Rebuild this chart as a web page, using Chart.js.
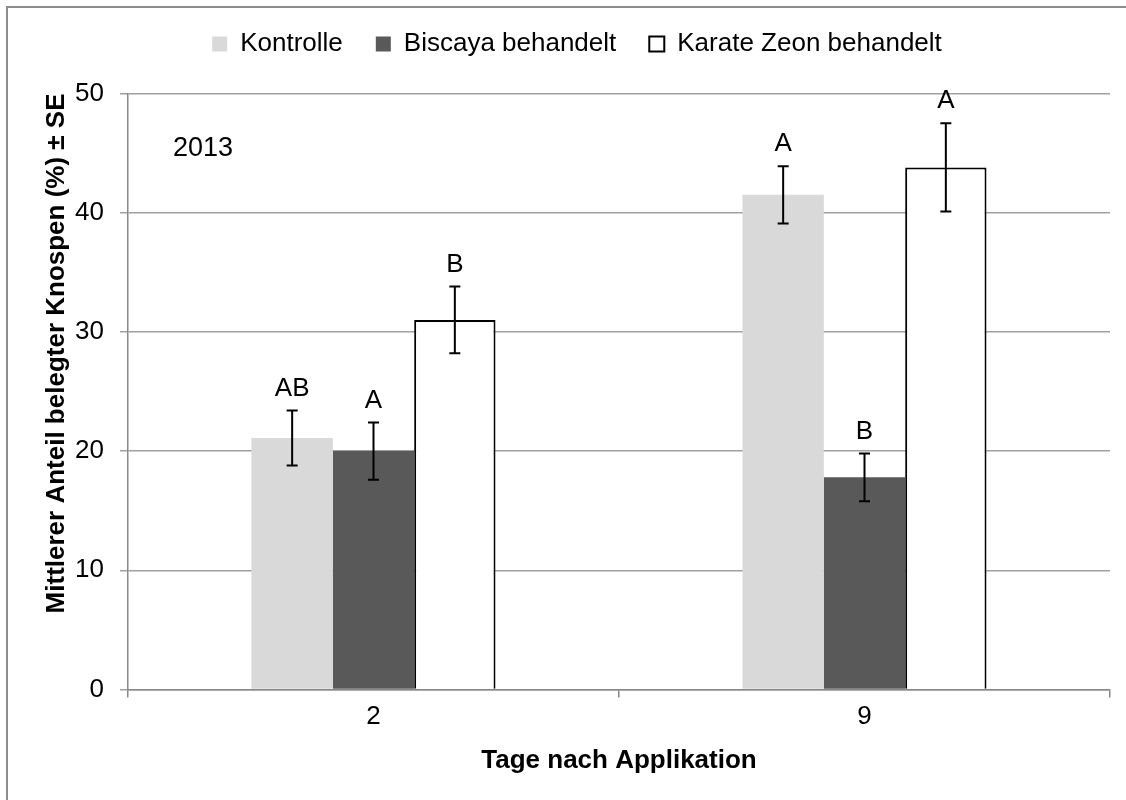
<!DOCTYPE html>
<html>
<head>
<meta charset="utf-8">
<script src="https://cdn.jsdelivr.net/npm/chart.js@4.4.1/dist/chart.umd.min.js"></script>
<style>
  body { margin: 0; background: #fff; }
  #rahmen {
    position: absolute; left: 6px; top: 6px; width: 1200px; height: 900px;
    border-left: 2px solid #8c8c8c; border-top: 2px solid #8c8c8c;
  }
  #grafik { position: absolute; left: 0; top: 0; }
</style>
</head>
<body>
<div id="rahmen"></div>
<canvas id="grafik" width="1126" height="800"></canvas>
<script>
// Daten
const tage = ["2", "9"];
const kontrolle = [21.1, 41.5];
const kontrolleSE = [2.3, 2.4];
const biscaya = [20.0, 17.8];
const biscayaSE = [2.4, 2.0];
const karate = [31.0, 43.8];
const karateSE = [2.8, 3.7];
const buchstabenKontrolle = ["AB", "A"];
const buchstabenBiscaya = ["A", "B"];
const buchstabenKarate = ["B", "A"];
const yTicks = [0, 10, 20, 30, 40, 50];

const schrift = "'Liberation Sans', Arial, sans-serif";
Chart.defaults.font.family = schrift;
Chart.defaults.color = "#000";

// Fehlerbalken + Buchstaben über den Balken
const fehlerbalken = {
  id: "fehlerbalken",
  afterDatasetsDraw(chart) {
    const ctx = chart.ctx;
    const y = chart.scales.y;
    ctx.save();
    chart.data.datasets.forEach((ds, i) => {
      const meta = chart.getDatasetMeta(i);
      meta.data.forEach((bar, j) => {
        const wert = ds.data[j];
        const se = ds.se[j];
        const oben = y.getPixelForValue(wert + se);
        const unten = y.getPixelForValue(wert - se);
        ctx.strokeStyle = "#000";
        ctx.lineWidth = 2;
        ctx.beginPath();
        ctx.moveTo(bar.x, oben);
        ctx.lineTo(bar.x, unten);
        ctx.moveTo(bar.x - 5.5, oben);
        ctx.lineTo(bar.x + 5.5, oben);
        ctx.moveTo(bar.x - 5.5, unten);
        ctx.lineTo(bar.x + 5.5, unten);
        ctx.stroke();
        // Signifikanzbuchstaben
        ctx.fillStyle = "#000";
        ctx.font = "26px " + schrift;
        ctx.textAlign = "center";
        ctx.textBaseline = "middle";
        ctx.fillText(ds.buchstaben[j], bar.x, oben - 22);
      });
    });
    // Jahr
    const area = chart.chartArea;
    ctx.font = "27px " + schrift;
    ctx.textAlign = "left";
    ctx.textBaseline = "middle";
    ctx.fillText("2013", area.left + 45, area.top + 55);
    ctx.restore();
  },
};

const ctx = document.getElementById("grafik").getContext("2d");
new Chart(ctx, {
  type: "bar",
  data: {
    labels: tage,
    datasets: [
      {
        label: "Kontrolle",
        data: kontrolle,
        se: kontrolleSE,
        buchstaben: buchstabenKontrolle,
        backgroundColor: "#d9d9d9",
        borderWidth: 0,
      },
      {
        label: "Biscaya behandelt",
        data: biscaya,
        se: biscayaSE,
        buchstaben: buchstabenBiscaya,
        backgroundColor: "#595959",
        borderWidth: 0,
      },
      {
        label: "Karate Zeon behandelt",
        data: karate,
        se: karateSE,
        buchstaben: buchstabenKarate,
        backgroundColor: "#ffffff",
        borderColor: "#000",
        borderWidth: 2,
      },
    ],
  },
  options: {
    responsive: false,
    animation: false,
    devicePixelRatio: 1,
    layout: { padding: { left: 44, right: 16, top: -2, bottom: 0 } },
    datasets: {
      bar: { barPercentage: 1, categoryPercentage: 0.497 },
    },
    plugins: {
      legend: {
        position: "top",
        labels: {
          boxWidth: 15,
          boxHeight: 15,
          padding: 33,
          font: { size: 26 },
          color: "#000",
        },
      },
      // leerer Abstandhalter zwischen Legende und Diagramm
      subtitle: {
        display: true,
        text: "",
        weight: 500,
        font: { size: 1, lineHeight: 1 },
        padding: { top: 25.5, bottom: 0 },
      },
      tooltip: { enabled: false },
    },
    scales: {
      x: {
        grid: {
          offset: true,
          drawOnChartArea: false,
          drawTicks: true,
          tickLength: 8,
          color: "#888",
          lineWidth: 1.5,
        },
        border: { color: "#888", width: 1.5 },
        ticks: { font: { size: 26 }, padding: 4, color: "#000" },
        title: {
          display: true,
          text: "Tage nach Applikation",
          font: { size: 26, weight: "bold" },
          padding: { top: 0, bottom: 24 },
          color: "#000",
        },
        afterFit(scale) {
          scale.height = 110.5;
        },
      },
      y: {
        min: 0,
        max: 50,
        afterBuildTicks(scale) {
          scale.ticks = yTicks.map((v) => ({ value: v }));
        },
        grid: { color: "#a0a0a0", lineWidth: 1.5, tickLength: 8 },
        border: { color: "#888", width: 1.5 },
        ticks: { font: { size: 26 }, padding: 16, color: "#000" },
        title: {
          display: true,
          text: "Mittlerer Anteil belegter Knospen (%) ± SE",
          align: "end",
          font: { size: 26, weight: "bold", lineHeight: 1 },
          padding: 0,
          color: "#000",
        },
        afterFit(scale) {
          scale.width = 84;
          scale.paddingTop = 93.5;
        },
      },
    },
  },
  plugins: [fehlerbalken],
});
</script>
</body>
</html>
